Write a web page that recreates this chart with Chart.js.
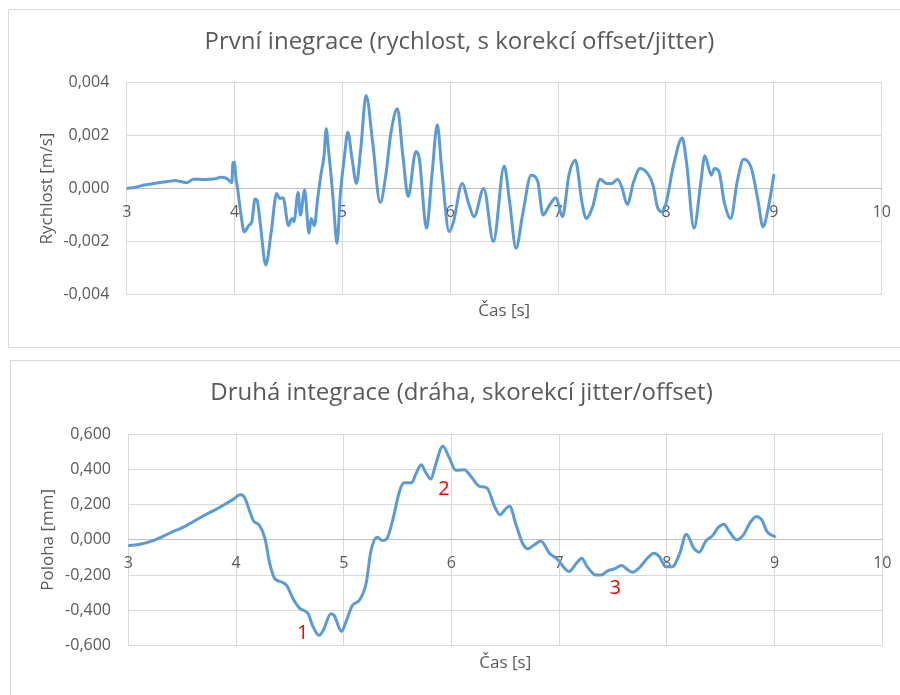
<!DOCTYPE html>
<html>
<head>
<meta charset="utf-8">
<script src="https://cdn.jsdelivr.net/npm/chart.js@4"></script>
<style>
  html, body { margin: 0; padding: 0; background: #fff; width: 900px; height: 695px; overflow: hidden; }
  .frame { position: absolute; border: 1px solid #d9d9d9; box-sizing: border-box; }
  .plot { position: absolute; }
  canvas { display: block; }
</style>
</head>
<body>
<div class="frame" style="left:8px;top:9px;width:1000px;height:339px"></div>
<div class="frame" style="left:10px;top:360px;width:1000px;height:400px"></div>
<div class="plot" style="left:8px;top:9px"><canvas id="velocity" width="903" height="338"></canvas></div>
<div class="plot" style="left:10px;top:360px"><canvas id="position" width="903" height="335"></canvas></div>

<script>
// Time axis ticks (s)
const timeTicks = [3, 4, 5, 6, 7, 8, 9, 10];

// First integration: velocity [m/s]
const velTimes = [
  3.00, 3.08, 3.16, 3.24, 3.31, 3.38, 3.45, 3.50, 3.56, 3.62, 3.70, 3.77, 3.82, 3.87, 3.93, 3.975,
  3.985, 3.995, 4.00, 4.01, 4.03, 4.06, 4.09, 4.13, 4.16, 4.19, 4.21, 4.24, 4.29, 4.34, 4.39, 4.42,
  4.45, 4.50, 4.53, 4.55, 4.59, 4.61, 4.65, 4.69, 4.71, 4.74, 4.77, 4.80, 4.83, 4.85, 4.87, 4.90,
  4.92, 4.95, 4.98, 5.02, 5.05, 5.09, 5.13, 5.17, 5.22, 5.28, 5.35, 5.40, 5.45, 5.51, 5.56, 5.61,
  5.68, 5.71, 5.78, 5.83, 5.88, 5.92, 5.99, 6.03, 6.11, 6.17, 6.22, 6.31, 6.40, 6.50, 6.55, 6.61,
  6.67, 6.75, 6.81, 6.86, 6.92, 6.98, 7.04, 7.10, 7.16, 7.22, 7.26, 7.32, 7.39, 7.45, 7.50, 7.55,
  7.59, 7.64, 7.70, 7.76, 7.84, 7.88, 7.92, 7.96, 8.00, 8.07, 8.15, 8.19, 8.26, 8.32, 8.36, 8.42,
  8.45, 8.49, 8.54, 8.60, 8.66, 8.72, 8.79, 8.85, 8.90, 8.95, 9.00
];
const velValues = [
  0.00000, 0.00005, 0.00013, 0.00018, 0.00023, 0.00026, 0.00030, 0.00026, 0.00022, 0.00035, 0.00034, 0.00035, 0.00037, 0.00042, 0.00037, 0.00022,
  0.00098, 0.00060, 0.00100, 0.00050, -0.00006, -0.00100, -0.00163, -0.00140, -0.00125, -0.00040, -0.00045, -0.00138, -0.00288, -0.00163, -0.00019, -0.00038,
  -0.00035, -0.00140, -0.00113, -0.00125, -0.00015, -0.00100, -0.00006, -0.00169, -0.00113, -0.00140, -0.00040, 0.00050, 0.00125, 0.00225, 0.00150, 0.00025,
  -0.00075, -0.00206, -0.00025, 0.00125, 0.00212, 0.00110, 0.00019, 0.00150, 0.00350, 0.00175, -0.00053, 0.00044, 0.00210, 0.00300, 0.00125, -0.00030,
  0.00138, 0.00120, -0.00150, 0.00050, 0.00240, 0.00075, -0.00163, -0.00125, 0.00019, -0.00056, -0.00106, 0.00000, -0.00200, 0.00085, -0.00050, -0.00225,
  -0.00100, 0.00050, 0.00028, -0.00100, -0.00063, -0.00035, -0.00106, 0.00050, 0.00106, -0.00050, -0.00113, -0.00069, 0.00035, 0.00019, 0.00019, 0.00035,
  0.00006, -0.00060, 0.00025, 0.00075, 0.00050, 0.00013, -0.00069, -0.00088, -0.00056, 0.00088, 0.00190, 0.00100, -0.00150, 0.00013, 0.00123, 0.00050,
  0.00075, 0.00065, -0.00050, -0.00113, 0.00025, 0.00110, 0.00078, -0.00038, -0.00144, -0.00069, 0.00050
];

// Second integration: position [mm]
const posTimes = [
  3.00, 3.11, 3.23, 3.39, 3.54, 3.69, 3.85, 3.97, 4.04, 4.08, 4.13, 4.16, 4.22, 4.27, 4.31, 4.36,
  4.41, 4.47, 4.53, 4.59, 4.67, 4.71, 4.77, 4.81, 4.88, 4.91, 4.98, 5.02, 5.08, 5.15, 5.21, 5.25,
  5.31, 5.36, 5.40, 5.45, 5.52, 5.56, 5.63, 5.67, 5.72, 5.76, 5.81, 5.85, 5.92, 5.98, 6.04, 6.12,
  6.18, 6.26, 6.33, 6.40, 6.45, 6.51, 6.54, 6.60, 6.66, 6.71, 6.77, 6.83, 6.91, 6.99, 7.05, 7.09,
  7.16, 7.21, 7.26, 7.34, 7.39, 7.45, 7.51, 7.58, 7.64, 7.68, 7.74, 7.82, 7.88, 7.93, 7.99, 8.05,
  8.12, 8.18, 8.25, 8.30, 8.36, 8.43, 8.47, 8.53, 8.58, 8.65, 8.71, 8.77, 8.83, 8.88, 8.93, 9.00
];
const posValues = [
  -0.032, -0.025, -0.004, 0.040, 0.081, 0.134, 0.185, 0.228, 0.255, 0.240, 0.157, 0.110, 0.080, 0.006, -0.126, -0.220,
  -0.236, -0.258, -0.334, -0.387, -0.419, -0.485, -0.541, -0.513, -0.419, -0.428, -0.519, -0.466, -0.372, -0.338, -0.240, -0.070,
  0.015, -0.004, 0.006, 0.100, 0.280, 0.323, 0.323, 0.374, 0.425, 0.383, 0.345, 0.420, 0.530, 0.465, 0.395, 0.398,
  0.360, 0.303, 0.294, 0.190, 0.142, 0.180, 0.190, 0.085, -0.019, -0.051, -0.028, -0.006, -0.076, -0.114, -0.161, -0.180,
  -0.133, -0.104, -0.152, -0.199, -0.199, -0.176, -0.165, -0.146, -0.171, -0.184, -0.161, -0.104, -0.076, -0.095, -0.152, -0.152,
  -0.076, 0.032, -0.047, -0.070, -0.009, 0.028, 0.066, 0.089, 0.047, 0.000, 0.028, 0.095, 0.133, 0.114, 0.047, 0.019
];

// Numbered markers on the position curve
const markTexts = ['1', '2', '3'];
const markTimes = [4.62, 5.93, 7.52];
const markValues = [-0.527, 0.289, -0.274];

const FONT = '"Open Sans", Lato, sans-serif';
Chart.defaults.font.family = FONT;
Chart.defaults.color = '#595959';

const GRID = '#d9d9d9';
const AXIS = '#bfbfbf';
const LINE = '#5b9bd5';

// Comma-decimal tick labels
function czFmt(v) {
  if (Math.abs(v) < 1e-12) v = 0;
  return v.toFixed(3).replace('.', ',');
}

const markerPlugin = {
  id: 'markers',
  afterDatasetsDraw(chart, args, opts) {
    if (!opts || !opts.texts) return;
    const {ctx, scales} = chart;
    ctx.save();
    ctx.fillStyle = '#ff0000';
    ctx.font = '20px ' + FONT;
    ctx.textAlign = 'center';
    ctx.textBaseline = 'middle';
    opts.texts.forEach((t, i) => {
      ctx.fillText(t, scales.x.getPixelForValue(opts.times[i]), scales.y.getPixelForValue(opts.values[i]));
    });
    ctx.restore();
  }
};

function buildChart(id, cfg) {
  const data = cfg.times.map((t, i) => ({x: t, y: cfg.values[i]}));
  return new Chart(document.getElementById(id), {
    type: 'line',
    data: {
      datasets: [{
        data,
        borderColor: LINE,
        borderWidth: 3,
        pointRadius: 0,
        fill: false,
        cubicInterpolationMode: 'monotone',
        borderJoinStyle: 'round',
        borderCapStyle: 'round'
      }]
    },
    options: {
      responsive: false,
      animation: false,
      events: [],
      layout: { padding: 0 },
      plugins: {
        legend: { display: false },
        tooltip: { enabled: false },
        title: {
          display: true,
          text: cfg.title,
          color: '#595959',
          font: { size: 24, weight: 'normal' },
          padding: { top: cfg.titleTop, bottom: cfg.titleBottom }
        },
        markers: cfg.markers || {}
      },
      scales: {
        x: {
          type: 'linear',
          position: { y: 0 },
          min: 3, max: 10,
          afterBuildTicks: (s) => { s.ticks = timeTicks.map(v => ({value: v})); },
          grid: { color: GRID, lineWidth: 1, drawTicks: false },
          border: { display: true, color: AXIS, width: 1 },
          ticks: { padding: 14, font: { size: 16 }, color: '#595959', callback: (v) => String(v) }
        },
        x2: {
          type: 'linear',
          axis: 'x',
          position: 'bottom',
          min: 3, max: 10,
          grid: { display: false, drawTicks: false },
          border: { display: false },
          ticks: { display: false },
          title: { display: true, text: 'Čas [s]', color: '#595959', font: { size: 17 }, padding: { top: 0, bottom: cfg.xTitleBottom } },
          afterFit: (s) => { s.height = cfg.xAxisHeight; }
        },
        y: {
          type: 'linear',
          position: 'left',
          min: cfg.yMin, max: cfg.yMax,
          grid: { color: GRID, lineWidth: 1, drawTicks: false },
          border: { display: false },
          ticks: { stepSize: cfg.yStep, padding: cfg.yTickPad, font: { size: 16 }, color: '#595959', callback: czFmt },
          title: { display: true, text: cfg.yTitle, color: '#595959', font: { size: 17 }, padding: { top: cfg.yTitleTop, bottom: 0 } },
          afterFit: (s) => { s.width = cfg.yAxisWidth; }
        },
        // empty right-hand margin of the plot
        yRight: {
          type: 'linear',
          axis: 'y',
          position: 'right',
          grid: { display: false, drawTicks: false },
          border: { display: false },
          ticks: { display: false },
          afterFit: (s) => { s.width = cfg.rightGap; }
        }
      }
    },
    plugins: [markerPlugin]
  });
}

buildChart('velocity', {
  times: velTimes, values: velValues,
  title: 'První inegrace (rychlost, s korekcí offset/jitter)',
  yTitle: 'Rychlost [m/s]',
  yMin: -0.004, yMax: 0.004, yStep: 0.002,
  rightGap: 29.3, titleTop: 18.6, titleBottom: 25.9,
  yAxisWidth: 118.7, yTickPad: 17.4, yTitleTop: 29.3,
  xAxisHeight: 52.3, xTitleBottom: 25.8
});

buildChart('position', {
  times: posTimes, values: posValues,
  title: 'Druhá integrace (dráha, skorekcí jitter/offset)',
  yTitle: 'Poloha [mm]',
  yMin: -0.6, yMax: 0.6, yStep: 0.2,
  rightGap: 30.7, titleTop: 18.9, titleBottom: 26.3,
  yAxisWidth: 118.3, yTickPad: 17.3, yTitleTop: 28.3,
  xAxisHeight: 49.3, xTitleBottom: 21.8,
  markers: { texts: markTexts, times: markTimes, values: markValues }
});
</script>
</body>
</html>
